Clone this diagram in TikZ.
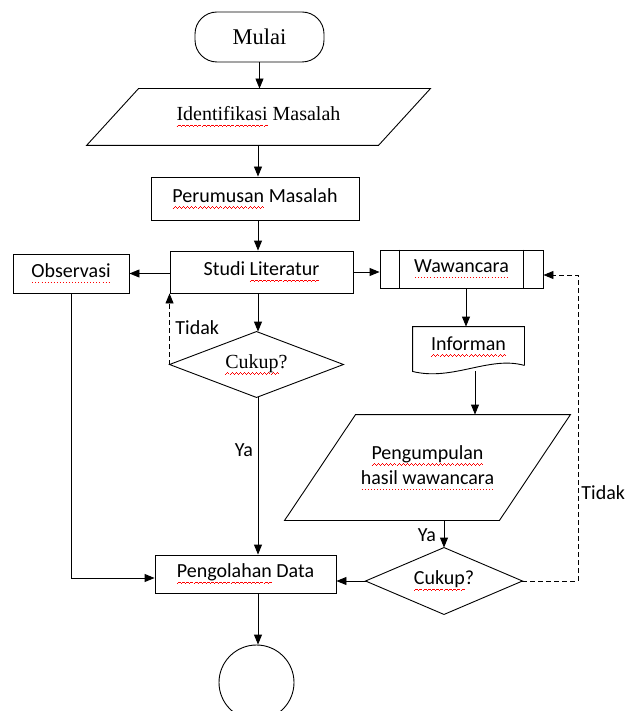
\documentclass[tikz,border=0pt]{standalone}
\usepackage{fontspec}
\setmainfont{Liberation Serif}
\newfontfamily\calib{Carlito}
\usetikzlibrary{arrows.meta,calc}
\newsavebox\wbox
\newcommand\rwave[1]{\sbox\wbox{#1}\rlap{\hbox to \wd\wbox{\color{red}\xleaders\hbox{\rule[-6.2pt]{1pt}{0.9pt}\rule[-5.4pt]{1pt}{0.9pt}\rule[-4.6pt]{1pt}{0.9pt}\rule[-5.4pt]{1pt}{0.9pt}}\hfil}}\usebox\wbox}
\newcommand\rdots[1]{\sbox\wbox{#1}\rlap{\hbox to \wd\wbox{\color{red}\xleaders\hbox to 3pt{\hss\rule[-5.4pt]{1pt}{0.8pt}\hss}\hfil}}\usebox\wbox}
\tikzset{
  base/.style={inner sep=0pt, align=center, font=\calib\fontsize{20}{25}\selectfont},
  serif/.style={font=\rmfamily\fontsize{20}{25}\selectfont},
  arr/.style={-{Triangle[length=10pt,width=8pt]}},
  dsh/.style={dash pattern=on 5pt off 3pt},
}
\begin{document}
\begin{tikzpicture}[x=1pt,y=-1pt,line width=0.9pt]
\useasboundingbox (0,0) rectangle (626,711);
\clip (0,0) rectangle (626,711);
\fill[white] (0,0) rectangle (626,711);
\coordinate (colx) at (258,0);
\coordinate (rt) at (578,0);

% nodes
\node[base, draw, rounded corners=22pt, minimum width=129pt, minimum height=50pt,
      font=\rmfamily\fontsize{22.5}{27}\selectfont] (mulai) at (259.5,37) {Mulai};
\node[base, serif, minimum width=343pt, minimum height=56pt] (ident) at (258.5,117)
      {\rwave{Identifikasi} Masalah};
\draw ([xshift=52pt]ident.north west) -- (ident.north east)
      -- ([xshift=-52pt]ident.south east) -- (ident.south west) -- cycle;
\node[base, draw, minimum width=208pt, minimum height=43pt] (perum) at (255,198.5)
      {\rwave{Perumusan} Masalah};
\node[base, draw, minimum width=183pt, minimum height=42pt] (studi) at (261.5,272)
      {Studi \rwave{Literatur}};
\node[base, draw, minimum width=116pt, minimum height=39pt] (obs) at (71,273.5)
      {\rdots{Observasi}};
\node[base, draw, minimum width=163pt, minimum height=38pt] (waw) at (461.5,269)
      {\rdots{Wawancara}};
\draw ([xshift=20pt]waw.north west) -- ([xshift=20pt]waw.south west)
      ([xshift=-20pt]waw.north east) -- ([xshift=-20pt]waw.south east);
\node[base, serif, minimum width=173pt, minimum height=65pt] (c1) at (256.5,364.5)
      {\rwave{Cukup}?};
\draw (c1.north) -- (c1.east) -- (c1.south) -- (c1.west) -- cycle;
\node[base, minimum width=111pt, minimum height=40pt] (inf) at (468.5,347)
      {\rwave{Informan}};
\draw ([yshift=2pt]inf.south east) -- (inf.north east) -- (inf.north west)
      -- ([yshift=-4pt]inf.south west) .. controls +(40,10) and +(-35,-10) ..
      ([yshift=2pt]inf.south east);
\node[base, minimum width=285pt, minimum height=105pt] (pgm) at (427.5,467.5)
      {\rwave{Pengumpulan}\\\rdots{hasil wawancara}};
\draw ([xshift=71pt]pgm.north west) -- (pgm.north east)
      -- ([xshift=-71pt]pgm.south east) -- (pgm.south west) -- cycle;
\node[base, minimum width=156pt, minimum height=66pt] (c2) at (444,581)
      {\rwave{Cukup}?};
\draw (c2.north) -- (c2.east) -- (c2.south) -- (c2.west) -- cycle;
\node[base, draw, minimum width=181pt, minimum height=38pt] (peng) at (245.5,574)
      {\rwave{Pengolahan} Data};
\node[draw, circle, minimum size=75pt, inner sep=0pt] (end) at (256.5,682.5) {};

% labels
\node[base, anchor=west] (t1) at (175,328) {Tidak};
\node[base] (y1) at (244,450) {Ya};
\node[base, anchor=west] (t2) at (581,493) {Tidak};
\node[base] (y2) at (427,535) {Ya};

% connectors
\coordinate (wawin) at ([yshift=-6pt]waw.east);
\coordinate (pengl) at ([yshift=-4pt]peng.west);
\coordinate (infb) at ([xshift=6.5pt]inf.south);
\draw[arr] (mulai.south) -- (mulai.south |- ident.north);
\draw[arr] (ident.south -| colx) -- (perum.north -| colx);
\draw[arr] (perum.south -| colx) -- (studi.north -| colx);
\draw[arr] (studi.west |- obs.east) -- (obs.east);
\draw[arr] (studi.east) -- (waw.west |- studi.east);
\draw[arr] (studi.south -| colx) -- (c1.north -| colx);
\draw[arr,dsh] (c1.west) -- (c1.west |- studi.south);
\draw[arr] (c1.south -| colx) -- (peng.north -| colx);
\draw[arr] (obs.south) |- (pengl);
\draw[arr] (c2.west) -- (c2.west -| peng.east);
\draw[arr,dsh] (c2.east) -- (c2.east -| rt) -- (rt |- wawin) -- (wawin);
\draw[arr] ([xshift=4.5pt]waw.south) -- ([xshift=-2.5pt]inf.north);
\draw[arr] ([yshift=-4pt]infb) -- (infb |- pgm.north);
\draw[arr] (c2.north |- pgm.south) -- (c2.north);
\draw[arr] (peng.south -| colx) -- (end.north -| colx);
\end{tikzpicture}
\end{document}
